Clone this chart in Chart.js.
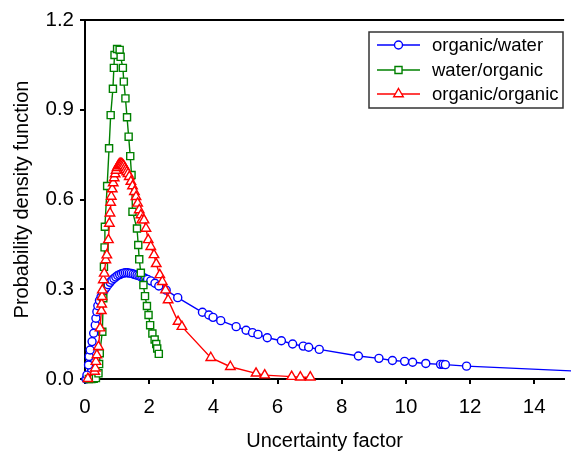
<!DOCTYPE html>
<html>
<head>
<meta charset="utf-8">
<script src="https://cdn.jsdelivr.net/npm/chart.js@4.4.1/dist/chart.umd.min.js"></script>
<style>
html,body{margin:0;padding:0;background:#fff;overflow:hidden;}
#wrap{width:571px;height:451px;position:relative;}
</style>
</head>
<body>
<div id="wrap"><canvas id="c" width="571" height="451"></canvas></div>
<script>
// ---- data ----
const seriesLabels = ["organic/water", "water/organic", "organic/organic"];

const owX = [0.03,0.06,0.11,0.13,0.16,0.22,0.27,0.32,0.34,0.37,0.40,0.45,0.50,0.55,0.60,0.66,0.72,0.78,0.84,0.90,0.96,1.02,1.08,1.14,1.20,1.26,1.32,1.38,1.44,1.50,1.56,1.62,1.68,1.74,1.80,1.86,1.95,2.05,2.18,2.30,2.53,2.89,3.66,3.86,3.99,4.23,4.71,5.02,5.22,5.39,5.68,6.12,6.47,6.80,6.97,7.30,8.52,9.16,9.58,9.96,10.21,10.62,11.08,11.16,11.23,11.89,16.0];
const owY = [0.000,0.013,0.047,0.075,0.097,0.125,0.153,0.180,0.203,0.225,0.245,0.262,0.275,0.287,0.297,0.306,0.315,0.323,0.330,0.336,0.341,0.346,0.349,0.352,0.354,0.355,0.355,0.354,0.353,0.351,0.349,0.347,0.345,0.342,0.340,0.337,0.333,0.328,0.320,0.311,0.297,0.272,0.223,0.214,0.206,0.195,0.175,0.163,0.155,0.149,0.138,0.128,0.117,0.110,0.106,0.099,0.077,0.069,0.062,0.059,0.056,0.052,0.049,0.049,0.048,0.043,0.023];

const woX = [0.12,0.20,0.27,0.34,0.42,0.44,0.46,0.54,0.57,0.59,0.61,0.62,0.69,0.75,0.80,0.87,0.90,0.92,1.00,1.08,1.11,1.18,1.21,1.26,1.31,1.36,1.41,1.45,1.48,1.62,1.66,1.69,1.74,1.82,1.87,1.93,1.98,2.03,2.10,2.17,2.22,2.25,2.30];
const woY = [0.000,0.000,0.001,0.003,0.019,0.050,0.086,0.158,0.270,0.375,0.440,0.509,0.645,0.771,0.882,0.970,1.040,1.083,1.103,1.100,1.077,1.040,0.994,0.938,0.875,0.810,0.745,0.682,0.559,0.503,0.448,0.400,0.355,0.314,0.277,0.244,0.214,0.180,0.152,0.132,0.117,0.102,0.084];

const ooX = [0.09,0.30,0.32,0.34,0.37,0.42,0.47,0.51,0.52,0.53,0.54,0.57,0.60,0.65,0.68,0.73,0.76,0.78,0.80,0.82,0.85,0.88,0.91,0.94,0.97,1.00,1.03,1.06,1.09,1.12,1.15,1.18,1.21,1.24,1.27,1.30,1.34,1.38,1.43,1.48,1.54,1.59,1.64,1.69,1.74,1.77,1.84,1.90,1.97,2.05,2.15,2.22,2.33,2.41,2.51,2.59,2.90,3.02,3.92,4.53,5.33,5.60,6.44,6.71,7.02];
const ooY = [0.001,0.025,0.036,0.058,0.080,0.108,0.170,0.228,0.250,0.275,0.297,0.331,0.353,0.398,0.414,0.465,0.520,0.554,0.590,0.610,0.635,0.655,0.672,0.685,0.697,0.706,0.712,0.717,0.720,0.720,0.719,0.716,0.712,0.706,0.699,0.692,0.686,0.676,0.660,0.645,0.626,0.609,0.587,0.565,0.548,0.531,0.531,0.503,0.465,0.442,0.415,0.385,0.348,0.325,0.297,0.264,0.192,0.175,0.071,0.041,0.019,0.013,0.008,0.006,0.006];

const xTicks = [0,2,4,6,8,10,12,14];
const yTicks = [0.0,0.3,0.6,0.9,1.2];

const zip = (xs, ys) => xs.map((x, i) => ({x: x, y: ys[i]}));
const FONT = '"Liberation Sans", Arial, sans-serif';

const frameAndLegend = {
  id: 'frameAndLegend',
  afterDraw(chart) {
    const ctx = chart.ctx, a = chart.chartArea;
    ctx.save();
    ctx.strokeStyle = '#000';
    ctx.lineWidth = 2;
    ctx.beginPath();
    ctx.moveTo(a.left - 1, a.top);
    ctx.lineTo(a.right, a.top);
    ctx.stroke();
    // legend
    const bx = 369, by = 32, bw = 194, bh = 76;
    ctx.fillStyle = '#fff';
    ctx.fillRect(bx, by, bw, bh);
    ctx.strokeStyle = '#333';
    ctx.lineWidth = 1.5;
    ctx.strokeRect(bx, by, bw, bh);
    const rows = [45, 70, 94];
    chart.data.datasets.forEach((ds, i) => {
      const y = rows[i];
      ctx.strokeStyle = ds.borderColor;
      ctx.lineWidth = 1.4;
      ctx.beginPath();
      ctx.moveTo(377, y);
      ctx.lineTo(420, y);
      ctx.stroke();
      ctx.fillStyle = '#fff';
      ctx.strokeStyle = ds.borderColor;
      Chart.helpers.drawPoint(ctx, {pointStyle: ds.pointStyle, radius: ds.pointRadius, borderWidth: 1.4, rotation: 0}, 398.5, y);
      ctx.fillStyle = '#000';
      ctx.font = '18.5px ' + FONT;
      ctx.textBaseline = 'middle';
      ctx.textAlign = 'left';
      ctx.fillText(ds.label, 432, y + 1);
    });
    ctx.restore();
  }
};

const common = {
  showLine: true, tension: 0, borderWidth: 1.4, pointBorderWidth: 1.4,
  pointBackgroundColor: '#fff', clip: false
};

new Chart(document.getElementById('c'), {
  type: 'scatter',
  data: {
    datasets: [
      Object.assign({label: seriesLabels[0], data: zip(owX, owY), borderColor: '#0000ff', pointBorderColor: '#0000ff', pointStyle: 'circle', pointRadius: 4, order: 2}, common),
      Object.assign({label: seriesLabels[1], data: zip(woX, woY), borderColor: '#008000', pointBorderColor: '#008000', pointStyle: 'rect', pointRadius: 5, order: 1}, common),
      Object.assign({label: seriesLabels[2], data: zip(ooX, ooY), borderColor: '#ff0000', pointBorderColor: '#ff0000', pointStyle: 'triangle', pointRadius: 5.5, order: 0}, common)
    ]
  },
  options: {
    responsive: false,
    animation: false,
    events: [],
    layout: {padding: {top: 20, right: 0, left: 0, bottom: 0}},
    plugins: {legend: {display: false}, tooltip: {enabled: false}},
    scales: {
      x: {
        type: 'linear', min: 0, max: 14.93,
        afterFit: s => { s.height = 72; },
        afterBuildTicks: s => { s.ticks = xTicks.map(v => ({value: v})); },
        ticks: {color: '#000', font: {size: 20.5, family: FONT}, padding: 11, maxRotation: 0, autoSkip: false},
        grid: {drawOnChartArea: false, drawTicks: true, tickLength: 5, color: '#000', lineWidth: 2},
        border: {color: '#000', width: 2},
        title: {display: true, text: 'Uncertainty factor', color: '#000', font: {size: 20, family: FONT}, padding: {top: 0, bottom: -2}}
      },
      y: {
        type: 'linear', min: 0, max: 1.2,
        afterFit: s => { s.width = 85; },
        afterBuildTicks: s => { s.ticks = yTicks.map(v => ({value: v})); },
        ticks: {color: '#000', font: {size: 20.5, family: FONT}, padding: 6, callback: v => Number(v).toFixed(1)},
        grid: {drawOnChartArea: false, drawTicks: true, tickLength: 5, color: '#000', lineWidth: 2},
        border: {color: '#000', width: 2},
        title: {display: true, text: 'Probability density function', color: '#000', font: {size: 20, family: FONT}, padding: {top: 10, bottom: 0}}
      }
    }
  },
  plugins: [frameAndLegend]
});
</script>
</body>
</html>
